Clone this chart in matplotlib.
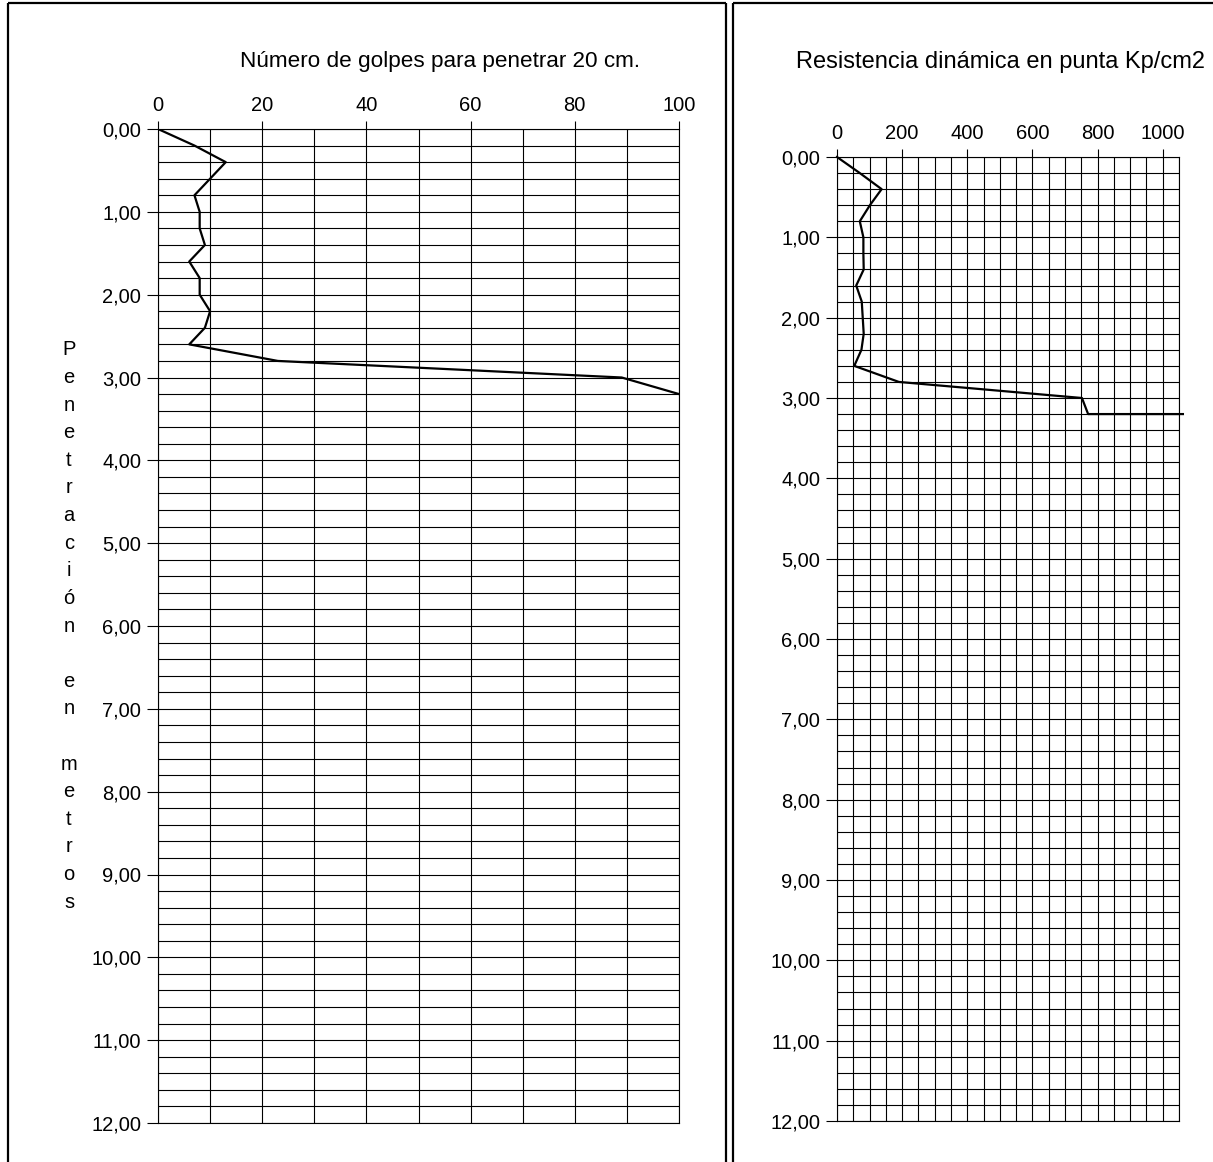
import numpy as np
import matplotlib
matplotlib.use("Agg")
import matplotlib.pyplot as plt
from matplotlib.lines import Line2D
from matplotlib.ticker import MultipleLocator, FuncFormatter
import matplotlib.transforms as mtransforms

plt.rcParams['font.family'] = ['Liberation Sans', 'DejaVu Sans']
plt.rcParams['font.size'] = 14.5

# penetracion cada 20 cm
depth = [0.0, 0.2, 0.4, 0.6, 0.8, 1.0, 1.2, 1.4, 1.6, 1.8, 2.0, 2.2, 2.4, 2.6, 2.8, 3.0, 3.2]
golpes = [0, 7, 13, 10, 7, 8, 8, 9, 6, 8, 8, 10, 9, 6, 23, 89, 100]

depth_r = [0.0, 0.2, 0.4, 0.6, 0.8, 1.0, 1.2, 1.4, 1.6, 1.8, 2.0, 2.2, 2.4, 2.6, 2.8, 3.0, 3.2, 3.2]
resist = [0, 70, 137, 101, 70, 81, 81, 82, 59, 76, 79, 82, 75, 53, 190, 752, 771, 1062]

title_left = "Número de golpes para penetrar 20 cm."
title_right = "Resistencia dinámica en punta Kp/cm2"
ylabel = "Penetración en metros"

W, H = 1213, 1162
fig = plt.figure(figsize=(W / 100, H / 100), dpi=100)


def px_axes(l, t, r, b):
    return fig.add_axes([l / W, 1 - b / H, (r - l) / W, (b - t) / H])


def fmt_depth(v, pos):
    return ("%.2f" % v).replace(".", ",")


def setup(ax, xmax, xmajor, xminor):
    ax.set_xlim(0, xmax)
    ax.set_ylim(12, 0)
    ax.xaxis.set_major_locator(MultipleLocator(xmajor))
    ax.xaxis.set_minor_locator(MultipleLocator(xminor))
    ax.yaxis.set_major_locator(MultipleLocator(1))
    ax.yaxis.set_minor_locator(MultipleLocator(0.2))
    ax.yaxis.set_major_formatter(FuncFormatter(fmt_depth))
    ax.xaxis.tick_top()
    ax.grid(which="both", color="black", lw=0.8)
    ax.tick_params(axis="x", which="major", length=6, width=0.8, pad=4)
    ax.tick_params(axis="y", which="major", length=8, width=0.8, pad=4)
    ax.tick_params(which="minor", length=0)
    for s in ax.spines.values():
        s.set_linewidth(0.8)
    ax.set_axisbelow(True)


ax1 = px_axes(158, 129, 679, 1123)
setup(ax1, 100, 20, 10)
ax1.plot(golpes, depth, color="black", lw=1.6)

ax2 = px_axes(837, 157, 1179, 1121)
setup(ax2, 1050, 200, 50)
ax2.plot(resist, depth_r, color="black", lw=1.6, clip_on=False)

fig.text(440 / W, 1 - 62 / H, title_left, ha="center", va="center", fontsize=16.2)
fig.text(1001 / W, 1 - 62 / H, title_right, ha="center", va="center", fontsize=17)

# etiqueta vertical letra por letra
tr = mtransforms.blended_transform_factory(fig.transFigure, ax1.transData)
for i, ch in enumerate(ylabel):
    ax1.text(69 / W, 8 / 3 + i / 3, ch, transform=tr, ha="center", va="center")

# marcos
def fline(xs, ys):
    fig.add_artist(Line2D([x / W for x in xs], [1 - y / H for y in ys],
                          color="black", lw=1.6, solid_capstyle="butt"))

fline([8, 8], [3, H + 5])
fline([8, 726], [3, 3])
fline([726, 726], [3, H + 5])
fline([733, 733], [3, H + 5])
fline([733, W + 5], [3, 3])

fig.savefig("out.png", dpi=100)
